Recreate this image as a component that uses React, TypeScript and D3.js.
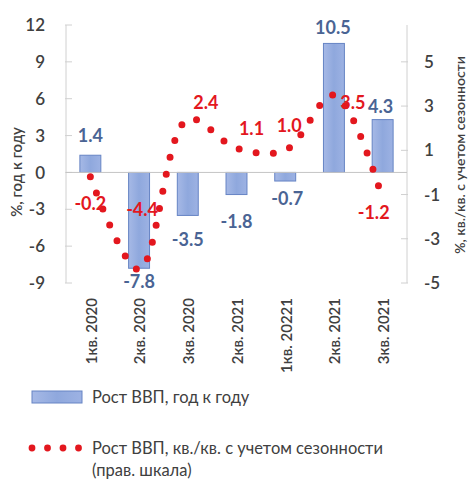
import React, { useEffect, useRef } from 'react';
import * as d3 from 'd3';

// ── data ──────────────────────────────────────────────
const categories = ['1кв. 2020', '2кв. 2020', '3кв. 2020', '2кв. 2021', '1кв. 20221', '2кв. 2021', '3кв. 2021'];
const gdpYoY = [1.4, -7.8, -3.5, -1.8, -0.7, 10.5, 4.3];
const gdpQoQ = [-0.2, -4.4, 2.4, 1.1, 1.0, 3.5, -1.2];
const leftTicks = [-9, -6, -3, 0, 3, 6, 9, 12];
const rightTicks = [-5, -3, -1, 1, 3, 5];
const leftTitle = '%, год к году';
const rightTitle = '%, кв./кв. с учетом сезонности';
const legendBar = 'Рост ВВП, год к году';
const legendLine = ['Рост ВВП, кв./кв. с учетом сезонности', '(прав. шкала)'];

// label nudges (pixels, relative to bar end / point) – labels were hand-placed in the source
const barLabelNudge = [[0, -20], [0, 13], [0, 24], [0, 27], [2, 17], [-1, -16], [-2, -13]];
const lineLabelNudge = [[0, 27], [3, -60], [18, -17], [15, -20], [4, -25], [19, 7], [-9, 14]];

const W = 469;
const H = 480;
const FONT = 'Lato, "Open Sans", sans-serif';
const GRAY = '#404040';
const AXIS = '#d0d0d0';
const BLUE_TXT = '#4a6494';
const RED = '#e3171e';
const BAR_FILL = '#8fa8dd';
const BAR_STROKE = '#6684c4';

export default function App() {
  const ref = useRef<SVGSVGElement>(null);

  useEffect(() => {
    const svg = d3.select(ref.current);
    svg.selectAll('*').remove();

    const m = { top: 25, right: 62, bottom: 197, left: 66 };
    // categories repeat ("2кв. 2021" twice), so the band scale runs on indices
    const x = d3.scaleBand<number>().domain(d3.range(categories.length)).range([m.left, W - m.right])
      .paddingInner(0.57).paddingOuter(0.285);
    const yL = d3.scaleLinear().domain([-9, 12]).range([H - m.bottom, m.top]);
    const yR = d3.scaleLinear().domain([-5, 20 / 3]).range([H - m.bottom, m.top]);
    const cx = (i: number) => (x(i) as number) + x.bandwidth() / 2;

    const defs = svg.append('defs');
    const grad = defs.append('linearGradient').attr('id', 'barGrad').attr('x1', 0).attr('x2', 1).attr('y1', 0).attr('y2', 0);
    grad.append('stop').attr('offset', '0%').attr('stop-color', '#a6b9e6');
    grad.append('stop').attr('offset', '50%').attr('stop-color', BAR_FILL);
    grad.append('stop').attr('offset', '100%').attr('stop-color', '#9db2e3');

    // ── axes lines ──
    const x0 = m.left, x1 = W - m.right;
    svg.append('line').attr('x1', x0).attr('x2', x0).attr('y1', yL(12)).attr('y2', yL(-9)).attr('stroke', AXIS);
    svg.append('line').attr('x1', x1).attr('x2', x1).attr('y1', yR(20 / 3)).attr('y2', yR(-5)).attr('stroke', AXIS);

    leftTicks.forEach(t => {
      svg.append('line').attr('x1', x0 - 1).attr('x2', x0 + 6).attr('y1', yL(t)).attr('y2', yL(t)).attr('stroke', AXIS);
      svg.append('text').attr('x', 45).attr('y', yL(t)).attr('dy', '0.36em').attr('text-anchor', 'end')
        .attr('font-family', FONT).attr('font-size', 17).attr('font-weight', 600).attr('fill', GRAY).text(t);
    });
    rightTicks.forEach(t => {
      svg.append('line').attr('x1', x1 - 6).attr('x2', x1 + 1).attr('y1', yR(t)).attr('y2', yR(t)).attr('stroke', AXIS);
      svg.append('text').attr('x', 424).attr('y', yR(t)).attr('dy', '0.36em').attr('text-anchor', 'start')
        .attr('font-family', FONT).attr('font-size', 17).attr('font-weight', 600).attr('fill', GRAY).text(t);
    });

    // ── bars ──
    svg.append('g').selectAll('rect').data(gdpYoY).join('rect')
      .attr('x', (d, i) => x(i) as number)
      .attr('y', d => yL(Math.max(0, d)))
      .attr('width', x.bandwidth())
      .attr('height', d => Math.abs(yL(d) - yL(0)))
      .attr('fill', 'url(#barGrad)').attr('stroke', BAR_STROKE).attr('stroke-width', 1);

    // zero line
    svg.append('line').attr('x1', x0).attr('x2', x1).attr('y1', yL(0)).attr('y2', yL(0)).attr('stroke', '#c4c4c4');

    // ── dotted smoothed line (right axis) ──
    const line = d3.line<number>()
      .x((d, i) => cx(i))
      .y(d => yR(d))
      .curve(d3.curveCatmullRom.alpha(0.5));
    svg.append('path').attr('d', line(gdpQoQ)).attr('fill', 'none')
      .attr('stroke', RED).attr('stroke-width', 7).attr('stroke-linecap', 'round').attr('stroke-dasharray', '0 17.3');

    // ── data labels ──
    gdpYoY.forEach((v, i) => {
      const [dx, dy] = barLabelNudge[i];
      svg.append('text').attr('x', cx(i) + dx).attr('y', yL(v) + dy).attr('dy', '0.36em')
        .attr('text-anchor', 'middle').attr('font-family', FONT).attr('font-size', 18).attr('font-weight', 700)
        .attr('fill', BLUE_TXT).text(v.toFixed(1));
    });
    gdpQoQ.forEach((v, i) => {
      const [dx, dy] = lineLabelNudge[i];
      svg.append('text').attr('x', cx(i) + dx).attr('y', yR(v) + dy).attr('dy', '0.36em')
        .attr('text-anchor', 'middle').attr('font-family', FONT).attr('font-size', 18).attr('font-weight', 700)
        .attr('fill', RED).text(v.toFixed(1));
    });

    // ── category labels (rotated) ──
    categories.forEach((c, i) => {
      svg.append('text').attr('transform', `translate(${cx(i) + 1},298) rotate(-90)`)
        .attr('dy', '0.36em').attr('text-anchor', 'end')
        .attr('font-family', FONT).attr('font-size', 15).attr('font-weight', 600).attr('fill', GRAY).text(c);
    });

    // ── axis titles ──
    svg.append('text').attr('transform', 'translate(17,172) rotate(-90)').attr('dy', '0.36em').attr('text-anchor', 'middle')
      .attr('font-family', FONT).attr('font-size', 15).attr('font-weight', 600).attr('fill', GRAY).text(leftTitle);
    svg.append('text').attr('transform', 'translate(460,155) rotate(-90)').attr('dy', '0.36em').attr('text-anchor', 'middle')
      .attr('font-family', FONT).attr('font-size', 14).attr('font-weight', 600).attr('fill', GRAY).text(rightTitle);

    // ── legend ──
    svg.append('rect').attr('x', 32).attr('y', 391).attr('width', 50).attr('height', 12)
      .attr('fill', 'url(#barGrad)').attr('stroke', BAR_STROKE);
    svg.append('text').attr('x', 92).attr('y', 397).attr('dy', '0.36em')
      .attr('font-family', FONT).attr('font-size', 16.5).attr('fill', GRAY).text(legendBar);
    d3.range(4).forEach(k => {
      svg.append('circle').attr('cx', 32 + k * 15.5).attr('cy', 448).attr('r', 3.4).attr('fill', RED);
    });
    legendLine.forEach((t, k) => {
      svg.append('text').attr('x', 92).attr('y', 448 + k * 22).attr('dy', '0.36em')
        .attr('font-family', FONT).attr('font-size', 16.5).attr('fill', GRAY).text(t);
    });
  }, []);

  return (
    <svg ref={ref} width={W} height={H}
      style={{ position: 'absolute', left: 0, top: 0, background: '#fff' }} />
  );
}
